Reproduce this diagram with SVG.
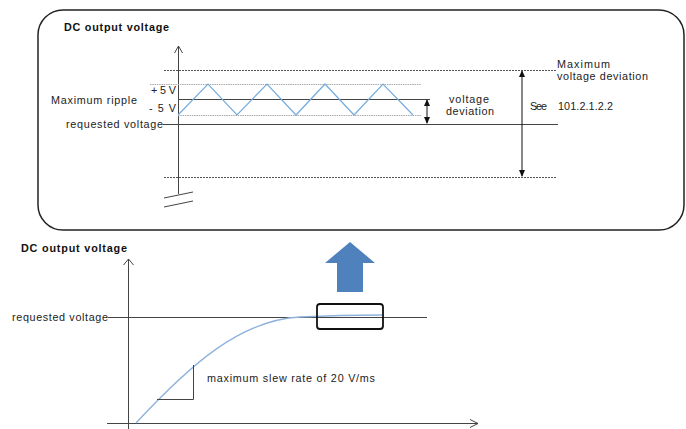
<svg xmlns="http://www.w3.org/2000/svg" width="686" height="429" viewBox="0 0 686 429">
<style>
text{font-family:"Liberation Sans",Arial,sans-serif;font-size:10.8px;fill:#222}
.b{font-weight:bold;font-size:10.8px;fill:#111}
.ln{stroke:#444;stroke-width:1;fill:none}
.dash{stroke:#555;stroke-width:1;stroke-dasharray:2,1;fill:none}
.dot{stroke:#aaa;stroke-width:1;stroke-dasharray:1.5,0.8;fill:none}
.wave{stroke:#75acdc;stroke-width:1.2;fill:none}
</style>
<defs>
<marker id="fa" viewBox="0 0 8 8" refX="7" refY="4" markerWidth="7" markerHeight="7" orient="auto-start-reverse" markerUnits="userSpaceOnUse">
<path d="M0,0.5 L8,4 L0,7.5 Z" fill="#111"/>
</marker>
</defs>
<rect x="38" y="10" width="646" height="220" rx="25" ry="25" fill="#fff" stroke="#222" stroke-width="1.5"/>
<g id="upper-title"><text class="b" x="64" y="31" textLength="105">DC output voltage</text></g>
<g id="upper-axis">
<line class="ln" x1="178.5" y1="46" x2="178.5" y2="194"/>
<polyline class="ln" points="174.5,53 178.5,46 182.5,53"/>
<line class="ln" x1="164" y1="198" x2="193" y2="192"/>
<line class="ln" x1="164" y1="207" x2="193" y2="201"/>
</g>
<g id="bounds">
<line class="dash" x1="164" y1="70.5" x2="557" y2="70.5"/>
<line class="dash" x1="164" y1="177.5" x2="557" y2="177.5"/>
<line class="dot" x1="150" y1="84.5" x2="421" y2="84.5"/>
<line class="dot" x1="178" y1="115.5" x2="421" y2="115.5"/>
<line class="ln" x1="178" y1="99.5" x2="430" y2="99.5"/>
<line class="ln" x1="163" y1="124.5" x2="558" y2="124.5"/>
</g>
<g id="ripple">
<polyline class="wave" points="178,115 208,84 237,115 267,84 296,115 325,84 354,115 383,84 413,115"/>
</g>
<g id="ripple-labels">
<text x="51" y="104" textLength="86">Maximum ripple</text>
<text x="151" y="94" font-size="9.5" textLength="25">+ 5 V</text>
<text x="149" y="112" font-size="9.5" textLength="27">-  5 V</text>
<text x="66" y="127.5" textLength="97">requested voltage</text>
</g>
<g id="connectors">
<line stroke="#111" stroke-width="1" x1="427" y1="100" x2="427" y2="123" marker-start="url(#fa)" marker-end="url(#fa)"/>
<line stroke="#111" stroke-width="1" x1="522" y1="71" x2="522" y2="176" marker-start="url(#fa)" marker-end="url(#fa)"/>
</g>
<g id="deviation-labels">
<text x="449" y="103" textLength="40">voltage</text>
<text x="446" y="115" textLength="48">deviation</text>
<text x="530" y="110" textLength="17">See</text>
<text x="558" y="110" font-size="9.5" textLength="55">101.2.1.2.2</text>
<text x="557" y="68" textLength="53">Maximum</text>
<text x="557" y="80" textLength="91">voltage deviation</text>
</g>
<g id="big-arrow">
<path d="M350,242 L375,263 L363,263 L363,292 L337,292 L337,263 L325,263 Z" fill="#4f81bd"/>
</g>
<g id="lower-title"><text class="b" x="21" y="252" textLength="106">DC output voltage</text></g>
<g id="lower-axes">
<line class="ln" x1="128.5" y1="259" x2="128.5" y2="429"/>
<polyline class="ln" points="123.5,265 128.5,259 133.5,265"/>
<line class="ln" x1="107" y1="423.5" x2="478" y2="423.5"/>
<polyline class="ln" points="470,419.5 478,423.5 470,427.5"/>
</g>
<g id="lower-requested">
<line class="ln" x1="108" y1="317.5" x2="427" y2="317.5"/>
<text x="12" y="320.5" textLength="96">requested voltage</text>
</g>
<g id="curve">
<path d="M136,423 C190,365 240,320 300,317 C330,315.5 360,315 382,315" stroke="#8fb2dc" stroke-width="1.3" fill="none"/>
</g>
<g id="slew">
<polyline class="ln" points="157,399.5 193.5,399.5 193.5,365"/>
<text x="207" y="381.5" textLength="168">maximum slew rate of 20 V/ms</text>
</g>
<g id="zoom-box">
<rect x="317" y="304" width="66" height="25" rx="3" ry="3" fill="none" stroke="#111" stroke-width="1.8"/>
</g>
</svg>
